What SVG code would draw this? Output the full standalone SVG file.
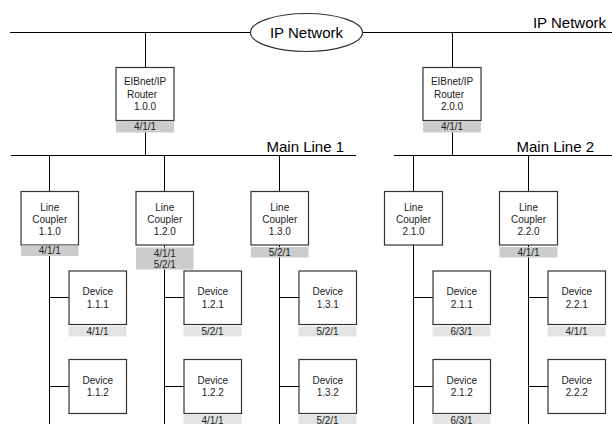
<svg xmlns="http://www.w3.org/2000/svg" width="612" height="424" viewBox="0 0 612 424">
<style>
.ln{stroke:#000;stroke-width:1;fill:none}
.box{fill:#fff;stroke:#333;stroke-width:1.2}
.s1{fill:#cccccc}
.s2{fill:#e3e3e3}
.t{font-family:"Liberation Sans",Arial,sans-serif;font-size:10px;fill:#222;text-anchor:middle}
.big{font-family:"Liberation Sans",Arial,sans-serif;font-size:15px;fill:#000}
</style>
<rect width="612" height="424" fill="#fff"/>
<g id="connectors" class="ln">
<path d="M10 32.5H612"/>
<path d="M145.5 32.5V155.5M452.5 32.5V155.5"/>
<path d="M11 155.5H356M394 155.5H612"/>
<path d="M49.5 155.5V424M164.5 155.5V424M279.5 155.5V424M413.5 155.5V424M528.5 155.5V424"/>
<path d="M49.5 297.5H69M49.5 386.5H69M164.5 297.5H184M164.5 386.5H184M279.5 297.5H299M279.5 386.5H299M413.5 297.5H433M413.5 386.5H433M528.5 297.5H548M528.5 386.5H548"/>
</g>
<g id="ip-network">
<ellipse cx="306.5" cy="32.5" rx="56" ry="19" class="box"/>
<text x="306.5" y="38" class="big" text-anchor="middle">IP Network</text>
</g>
<g id="labels">
<text x="606" y="28" class="big" text-anchor="end">IP Network</text>
<text x="266.5" y="152" class="big">Main Line 1</text>
<text x="516.5" y="152" class="big">Main Line 2</text>
</g>
<g id="router-1.0.0">
<rect x="116" y="67.5" width="58" height="53" class="box"/>
<rect x="116" y="121" width="58" height="11.5" class="s1"/>
<text x="145" y="85.3" class="t">EIBnet/IP</text>
<text x="142" y="97.5" class="t">Router</text>
<text x="145" y="110.3" class="t">1.0.0</text>
<text x="145" y="130.3" class="t">4/1/1</text>
</g>
<g id="router-2.0.0">
<rect x="423" y="67.5" width="58" height="53" class="box"/>
<rect x="423" y="121" width="58" height="11.5" class="s1"/>
<text x="452" y="85.3" class="t">EIBnet/IP</text>
<text x="449" y="97.5" class="t">Router</text>
<text x="452" y="110.3" class="t">2.0.0</text>
<text x="452" y="130.3" class="t">4/1/1</text>
</g>
<g id="coupler-1.1.0">
<rect x="21" y="191.5" width="57.5" height="53.5" class="box"/>
<rect x="21" y="245.5" width="57.5" height="10.5" class="s1"/>
<text x="49.75" y="210.5" class="t">Line</text>
<text x="49.75" y="222.5" class="t">Coupler</text>
<text x="49.75" y="234.5" class="t">1.1.0</text>
<text x="49.75" y="254.3" class="t">4/1/1</text>
</g>
<g id="coupler-1.2.0">
<rect x="136" y="191.5" width="57.5" height="53.5" class="box"/>
<rect x="136" y="247.5" width="57.5" height="22" class="s1"/>
<text x="164.75" y="210.5" class="t">Line</text>
<text x="164.75" y="222.5" class="t">Coupler</text>
<text x="164.75" y="234.5" class="t">1.2.0</text>
<text x="164.75" y="256.5" class="t">4/1/1</text>
<text x="164.75" y="267.5" class="t">5/2/1</text>
</g>
<g id="coupler-1.3.0">
<rect x="251" y="191.5" width="57.5" height="53.5" class="box"/>
<rect x="251" y="247" width="57.5" height="10.5" class="s1"/>
<text x="279.75" y="210.5" class="t">Line</text>
<text x="279.75" y="222.5" class="t">Coupler</text>
<text x="279.75" y="234.5" class="t">1.3.0</text>
<text x="279.75" y="255.8" class="t">5/2/1</text>
</g>
<g id="coupler-2.1.0">
<rect x="384.5" y="191.5" width="58" height="53.5" class="box"/>
<text x="413.5" y="210.5" class="t">Line</text>
<text x="413.5" y="222.5" class="t">Coupler</text>
<text x="413.5" y="234.5" class="t">2.1.0</text>
</g>
<g id="coupler-2.2.0">
<rect x="499.5" y="191.5" width="58" height="53.5" class="box"/>
<rect x="499.5" y="247" width="58" height="10.5" class="s1"/>
<text x="528.5" y="210.5" class="t">Line</text>
<text x="528.5" y="222.5" class="t">Coupler</text>
<text x="528.5" y="234.5" class="t">2.2.0</text>
<text x="528.5" y="255.8" class="t">4/1/1</text>
</g>
<g id="device-1.1.1">
<rect x="69" y="271" width="57.5" height="53.5" class="box"/>
<rect x="68.5" y="326.5" width="58" height="10" class="s2"/>
<text x="97.75" y="295.3" class="t">Device</text>
<text x="97.75" y="307.6" class="t">1.1.1</text>
<text x="97.5" y="335" class="t">4/1/1</text>
</g>
<g id="device-1.1.2">
<rect x="69" y="359.5" width="57.5" height="54" class="box"/>
<text x="97.75" y="384" class="t">Device</text>
<text x="97.75" y="396.3" class="t">1.1.2</text>
</g>
<g id="device-1.2.1">
<rect x="184" y="271" width="57.5" height="53.5" class="box"/>
<rect x="183.5" y="326.5" width="58" height="10" class="s2"/>
<text x="212.75" y="295.3" class="t">Device</text>
<text x="212.75" y="307.6" class="t">1.2.1</text>
<text x="212.5" y="335" class="t">5/2/1</text>
</g>
<g id="device-1.2.2">
<rect x="184" y="359.5" width="57.5" height="54" class="box"/>
<rect x="183.5" y="415" width="58" height="10" class="s2"/>
<text x="212.75" y="384" class="t">Device</text>
<text x="212.75" y="396.3" class="t">1.2.2</text>
<text x="212.5" y="423.5" class="t">4/1/1</text>
</g>
<g id="device-1.3.1">
<rect x="299" y="271" width="57.5" height="53.5" class="box"/>
<rect x="298.5" y="326.5" width="58" height="10" class="s2"/>
<text x="327.75" y="295.3" class="t">Device</text>
<text x="327.75" y="307.6" class="t">1.3.1</text>
<text x="327.5" y="335" class="t">5/2/1</text>
</g>
<g id="device-1.3.2">
<rect x="299" y="359.5" width="57.5" height="54" class="box"/>
<rect x="298.5" y="415" width="58" height="10" class="s2"/>
<text x="327.75" y="384" class="t">Device</text>
<text x="327.75" y="396.3" class="t">1.3.2</text>
<text x="327.5" y="423.5" class="t">5/2/1</text>
</g>
<g id="device-2.1.1">
<rect x="433" y="271" width="57.5" height="53.5" class="box"/>
<rect x="432.5" y="326.5" width="58" height="10" class="s2"/>
<text x="461.75" y="295.3" class="t">Device</text>
<text x="461.75" y="307.6" class="t">2.1.1</text>
<text x="461.5" y="335" class="t">6/3/1</text>
</g>
<g id="device-2.1.2">
<rect x="433" y="359.5" width="57.5" height="54" class="box"/>
<rect x="432.5" y="415" width="58" height="10" class="s2"/>
<text x="461.75" y="384" class="t">Device</text>
<text x="461.75" y="396.3" class="t">2.1.2</text>
<text x="461.5" y="423.5" class="t">6/3/1</text>
</g>
<g id="device-2.2.1">
<rect x="548" y="271" width="57.5" height="53.5" class="box"/>
<rect x="547.5" y="326.5" width="58" height="10" class="s2"/>
<text x="576.75" y="295.3" class="t">Device</text>
<text x="576.75" y="307.6" class="t">2.2.1</text>
<text x="576.5" y="335" class="t">4/1/1</text>
</g>
<g id="device-2.2.2">
<rect x="548" y="359.5" width="57.5" height="54" class="box"/>
<text x="576.75" y="384" class="t">Device</text>
<text x="576.75" y="396.3" class="t">2.2.2</text>
</g>
</svg>
